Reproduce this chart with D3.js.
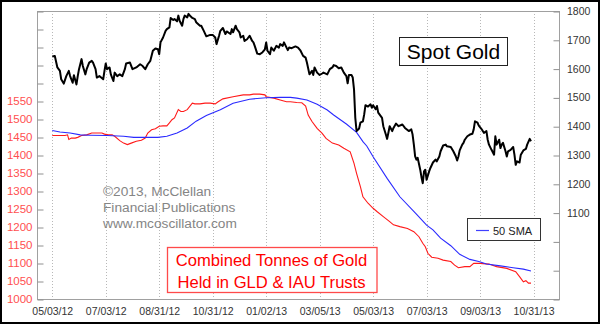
<!DOCTYPE html>
<html>
<head>
<meta charset="utf-8">
<script src="https://cdn.jsdelivr.net/npm/d3@7"></script>
<style>
  html, body { margin: 0; padding: 0; background: #fff; }
  svg { display: block; font-family: "Liberation Sans", Arial, sans-serif; }
</style>
</head>
<body>
<svg id="chart" width="600" height="324"></svg>
<script>
// ---- Data (x = trading-day index from 05/03/12) ----
const dateLabels = ["05/03/12","07/03/12","08/31/12","10/31/12","01/02/13","03/05/13","05/03/13","07/03/13","09/03/13","10/31/13"];
const dateDays = [0,42,84,126,168,210,252,294,336,378];

const goldDays = [0,2,4,6,7,9,11,13,14,16,17,19,20,21,23,24,26,27,29,31,32,34,35,37,40,41,42,43,45,46,48,49,51,53,55,57,58,61,63,66,69,71,73,75,77,79,81,83,84,85,87,89,90,92,93,95,96,98,99,100,102,103,104,106,107,108,110,112,113,116,117,119,121,124,126,128,129,131,132,134,136,137,140,141,142,144,145,147,148,150,151,153,155,157,158,159,161,163,165,167,168,169,171,172,174,176,178,179,181,182,184,185,186,188,191,193,195,197,199,200,202,204,205,206,208,210,212,213,216,218,220,221,223,225,227,229,231,232,233,235,236,237,238,239,241,242,244,245,246,248,250,251,252,254,255,256,258,259,260,262,263,264,265,267,268,270,272,275,277,280,282,283,284,285,286,287,289,290,291,292,293,294,296,297,299,301,302,304,305,307,309,310,313,315,317,318,319,320,322,323,324,326,328,330,331,332,334,335,337,339,341,342,343,345,347,348,349,351,352,353,354,356,357,358,360,362,363,364,365,367,368,370,372,373,375,376];
const goldValues = [1642,1644,1604,1592,1563,1548,1574,1592,1574,1551,1577,1545,1574,1598,1633,1609,1580,1598,1621,1627,1621,1598,1569,1574,1563,1592,1618,1598,1604,1580,1557,1586,1574,1580,1574,1598,1618,1621,1598,1604,1615,1609,1598,1615,1627,1662,1670,1667,1650,1691,1708,1731,1737,1743,1776,1769,1772,1764,1784,1766,1749,1772,1784,1778,1790,1784,1776,1772,1761,1749,1749,1731,1712,1717,1717,1708,1685,1714,1731,1741,1720,1729,1720,1737,1726,1749,1737,1726,1708,1714,1696,1702,1714,1696,1691,1679,1652,1650,1656,1667,1691,1662,1650,1673,1662,1679,1673,1685,1679,1691,1673,1664,1673,1671,1677,1673,1662,1644,1638,1621,1580,1592,1578,1604,1586,1578,1583,1586,1580,1598,1604,1612,1609,1601,1604,1586,1574,1549,1578,1578,1569,1528,1429,1383,1392,1412,1417,1441,1473,1468,1476,1464,1473,1459,1470,1447,1435,1429,1400,1371,1356,1377,1400,1383,1394,1409,1400,1406,1394,1383,1389,1371,1336,1295,1284,1290,1249,1223,1202,1243,1249,1214,1243,1255,1274,1284,1278,1295,1313,1333,1336,1330,1328,1313,1295,1281,1295,1316,1336,1342,1353,1365,1371,1374,1389,1417,1412,1402,1391,1377,1383,1353,1336,1318,1301,1365,1336,1353,1324,1336,1342,1313,1295,1313,1318,1328,1301,1266,1278,1274,1301,1316,1321,1336,1356,1348];

const tonnesDays = [0,6,10,12,13,15,18,20,23,27,31,35,39,41,44,47,49,53,56,59,62,66,70,73,75,78,81,84,87,90,92,94,96,99,101,103,106,110,112,116,120,124,128,130,134,142,150,155,158,163,167,168,174,179,184,187,192,196,199,201,204,208,212,215,220,225,229,234,237,239,242,244,248,252,255,260,265,268,273,279,284,288,291,293,295,298,303,307,313,316,319,324,328,331,336,343,349,357,364,367,370,372,374,376];
const tonnesValues = [1454,1454,1454,1456,1443,1447,1447,1449,1454,1456,1461,1461,1461,1458,1456,1456,1452,1440,1433,1429,1433,1438,1441,1447,1461,1470,1473,1480,1481,1481,1489,1498,1503,1526,1521,1521,1526,1544,1542,1542,1544,1544,1542,1547,1556,1562,1567,1567,1569,1569,1567,1562,1558,1553,1548,1548,1546,1545,1536,1511,1493,1474,1460,1446,1433,1428,1419,1409,1377,1349,1312,1284,1266,1252,1243,1229,1215,1206,1201,1196,1187,1173,1155,1145,1127,1116,1113,1108,1104,1094,1087,1090,1090,1099,1099,1097,1090,1085,1076,1062,1048,1051,1044,1044];

const smaDays = [0,6,14,22,30,43,56,64,74,83,90,98,106,113,121,132,142,155,168,179,187,192,200,208,216,221,231,239,244,247,252,263,273,286,294,299,305,313,320,328,335,341,352,362,370,376];
const smaValues = [1468,1464,1461,1456,1455,1454,1452,1449,1449,1449,1452,1461,1475,1494,1510,1526,1544,1555,1559,1560,1560,1558,1553,1541,1525,1511,1486,1463,1437,1425,1395,1335,1284,1236,1205,1192,1169,1148,1124,1110,1104,1097,1092,1087,1083,1078];

const leftTicks = [1000,1050,1100,1150,1200,1250,1300,1350,1400,1450,1500,1550,1600,1650,1700,1750,1800];
const leftLabels = [1000,1050,1100,1150,1200,1250,1300,1350,1400,1450,1500,1550];
const rightTicks = [800,900,1000,1100,1200,1300,1400,1500,1600,1700,1800];
const rightLabels = [1100,1200,1300,1400,1500,1600,1700,1800];

// ---- Layout ----
const svg = d3.select("#chart");
const P = { l: 37, r: 559, t: 11, b: 299 };

const x = d3.scaleLinear().domain([-12, 398]).range([P.l, P.r]);
const yL = d3.scaleLinear().domain([1000, 1800]).range([P.b, P.t]);
const yR = d3.scaleLinear().domain([800, 1800]).range([P.b, P.t]);

svg.append("rect").attr("width", 600).attr("height", 324).attr("fill", "#fff");
svg.append("rect").attr("x", 1).attr("y", 1).attr("width", 598).attr("height", 322)
  .attr("fill", "none").attr("stroke", "#000").attr("stroke-width", 2);

// vertical dotted grid
svg.append("g").selectAll("line").data(dateDays).join("line")
  .attr("x1", d => Math.round(x(d)) + 0.5).attr("x2", d => Math.round(x(d)) + 0.5)
  .attr("y1", P.t).attr("y2", P.b)
  .attr("stroke", "#b8b8b8").attr("stroke-width", 1).attr("stroke-dasharray", "1,2");

// plot frame
svg.append("rect").attr("x", P.l + 0.5).attr("y", P.t + 0.5)
  .attr("width", P.r - P.l).attr("height", P.b - P.t)
  .attr("fill", "none").attr("stroke", "#a0a0a0");

// left axis (inner ticks)
const axL = d3.axisLeft(yL).tickValues(leftTicks).tickSize(-6).tickFormat("");
const gL = svg.append("g").attr("transform", `translate(${P.l + 0.5},0.5)`).call(axL);
gL.select(".domain").remove();
gL.selectAll("line").attr("stroke", "#909090");
svg.append("g").selectAll("text").data(leftLabels).join("text")
  .attr("x", 32.5).attr("y", d => yL(d) + 4)
  .attr("text-anchor", "end").attr("font-size", 11.5).attr("fill", "#ff4f4f")
  .text(d => d);

// right axis (inner ticks)
const axR = d3.axisRight(yR).tickValues(rightTicks).tickSize(-6).tickFormat("");
const gR = svg.append("g").attr("transform", `translate(${P.r + 0.5},0.5)`).call(axR);
gR.select(".domain").remove();
gR.selectAll("line").attr("stroke", "#909090");
svg.append("g").selectAll("text").data(rightLabels).join("text")
  .attr("x", 567).attr("y", d => yR(d) + 4)
  .attr("text-anchor", "start").attr("font-size", 10.5).attr("fill", "#333")
  .text(d => d);

// bottom axis labels
const axB = d3.axisBottom(x).tickValues(dateDays).tickSize(0).tickFormat((d, i) => dateLabels[i]);
const gB = svg.append("g").attr("transform", `translate(0,${P.b})`).call(axB);
gB.select(".domain").remove();
gB.selectAll("text").attr("font-size", 10.5).attr("fill", "#333")
  .attr("font-family", "Liberation Sans, Arial, sans-serif").attr("dy", 0).attr("y", 16);

// watermark
const wm = ["\u00A92013, McClellan", "Financial Publications", "www.mcoscillator.com"];
svg.append("g").selectAll("text").data(wm).join("text")
  .attr("x", 103).attr("y", (d, i) => 196 + i * 15.8)
  .attr("font-size", 13.7).attr("fill", "#858585").text(d => d);

// lines
const lineOf = (days, vals, ys) => d3.line().x((d, i) => x(days[i])).y(d => ys(d))(vals);

svg.append("path").attr("d", lineOf(tonnesDays, tonnesValues, yL))
  .attr("fill", "none").attr("stroke", "#ff1a1a").attr("stroke-width", 1.1);
svg.append("path").attr("d", lineOf(smaDays, smaValues, yL))
  .attr("fill", "none").attr("stroke", "#2a2aff").attr("stroke-width", 1.1);
svg.append("path").attr("d", lineOf(goldDays, goldValues, yR))
  .attr("fill", "none").attr("stroke", "#000").attr("stroke-width", 2)
  .attr("stroke-linejoin", "round");

// Spot Gold box
svg.append("rect").attr("x", 399.5).attr("y", 37.5).attr("width", 108).attr("height", 28)
  .attr("fill", "#fff").attr("stroke", "#222");
svg.append("text").attr("x", 453.5).attr("y", 58.5).attr("text-anchor", "middle")
  .attr("font-size", 21).attr("fill", "#000").text("Spot Gold");

// legend
svg.append("rect").attr("x", 467.5).attr("y", 218.5).attr("width", 73).attr("height", 22)
  .attr("fill", "#fff").attr("stroke", "#333");
svg.append("line").attr("x1", 476).attr("x2", 489).attr("y1", 230.5).attr("y2", 230.5)
  .attr("stroke", "#4040ff").attr("stroke-width", 1.2);
svg.append("text").attr("x", 493).attr("y", 234.5).attr("font-size", 11).attr("fill", "#222").text("50 SMA");

// red title box
svg.append("rect").attr("x", 167.5).attr("y", 247.5).attr("width", 209.5).attr("height", 45)
  .attr("fill", "#fff").attr("stroke", "#ff4a4a").attr("stroke-width", 1.3);
const rt = ["Combined Tonnes of Gold", "Held in GLD & IAU Trusts"];
svg.append("g").selectAll("text").data(rt).join("text")
  .attr("x", 271.5).attr("y", (d, i) => 266 + i * 21.5).attr("text-anchor", "middle")
  .attr("font-size", 16.6).attr("fill", "#ff0000").text(d => d);
</script>
</body>
</html>
